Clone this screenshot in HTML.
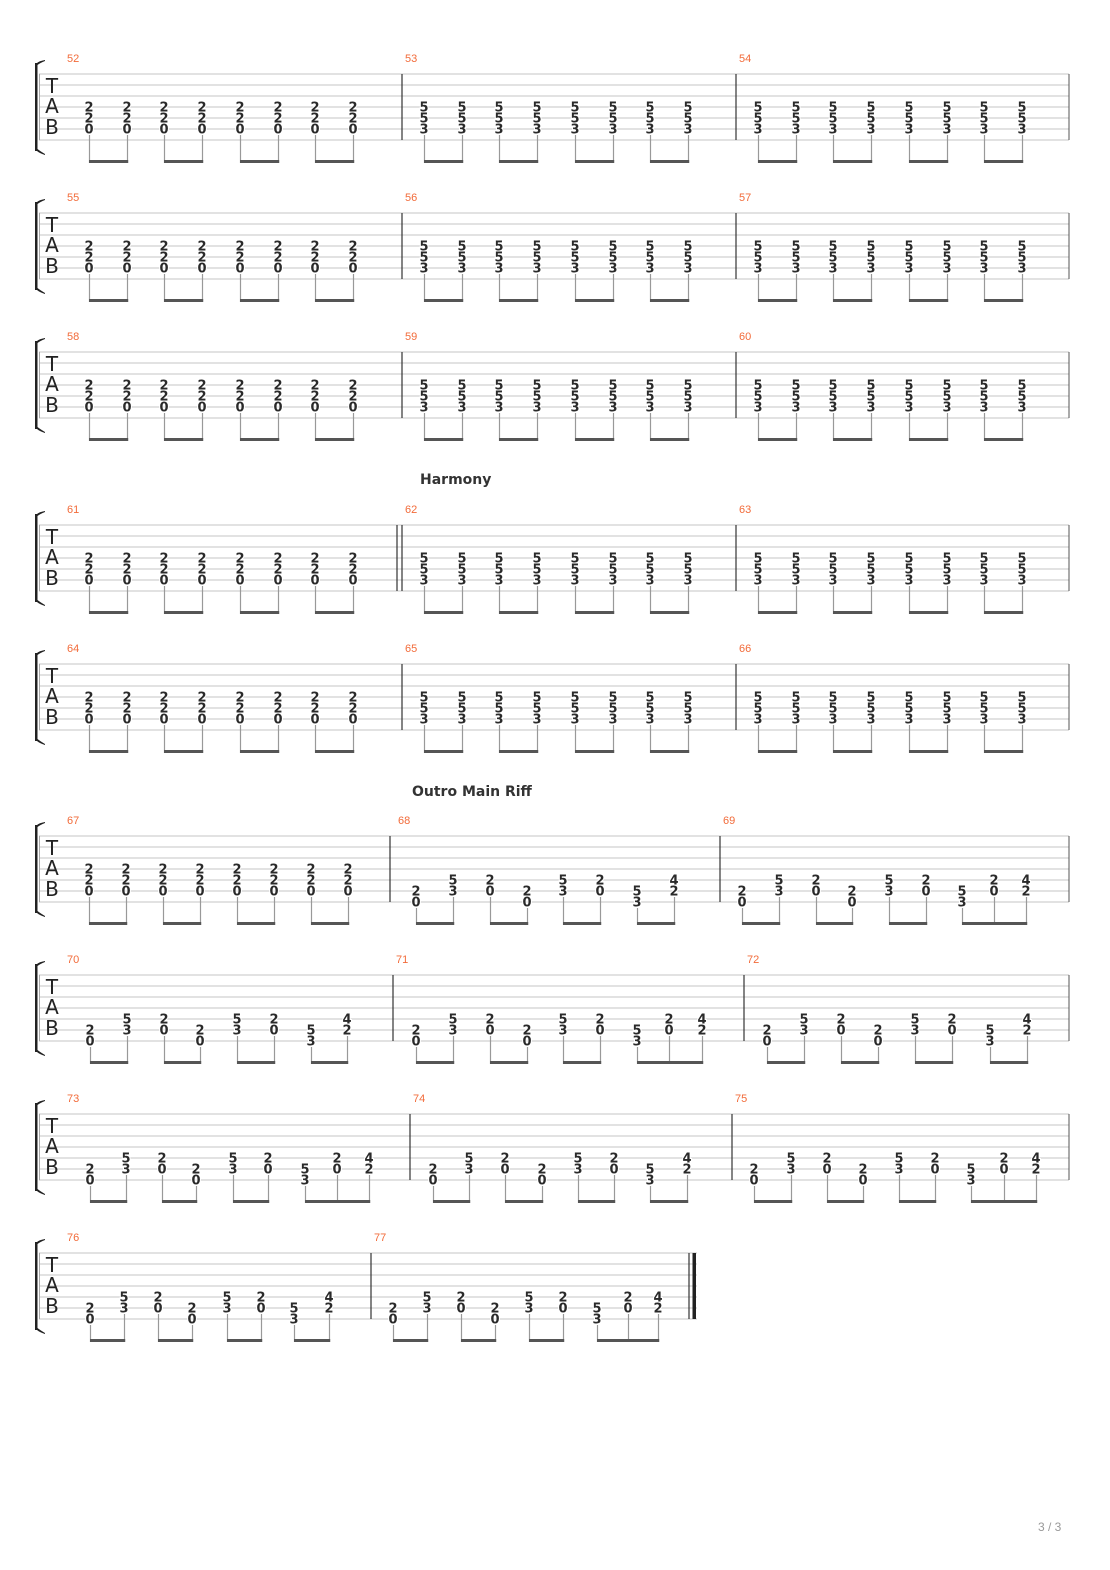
<!DOCTYPE html>
<html><head><meta charset="utf-8">
<style>
html,body{margin:0;padding:0;background:#fff;}
svg{display:block;}
.num{font-family:"Liberation Sans",sans-serif;font-size:11px;fill:#f26b3a;}
.d{font-family:"DejaVu Sans","Liberation Sans",sans-serif;font-size:13px;font-weight:bold;fill:#2a2a2a;text-anchor:middle;stroke:#fff;stroke-width:2px;paint-order:stroke;}
.clef{font-family:"DejaVu Sans","Liberation Sans",sans-serif;font-size:20px;fill:#222;text-anchor:middle;}
.title{font-family:"DejaVu Sans","Liberation Sans",sans-serif;font-size:14px;font-weight:bold;fill:#333;}
</style></head>
<body>
<svg id="s" xmlns="http://www.w3.org/2000/svg" width="1110" height="1570" viewBox="0 0 1110 1570">
<text class="title" x="420" y="484">Harmony</text>
<text class="title" x="412" y="796">Outro Main Riff</text>
<text x="1038" y="1531" style="font-family:'Liberation Sans',sans-serif;font-size:12px;fill:#999;">3 / 3</text>
</svg>
<script>
(function(){
var svg=document.getElementById('s');var NS='http://www.w3.org/2000/svg';
function el(t,a,txt){var e=document.createElementNS(NS,t);for(var k in a)e.setAttribute(k,a[k]);if(txt!==undefined)e.textContent=txt;svg.appendChild(e);return e;}
function seq(s,n,step){var r=[];for(var i=0;i<n;i++)r.push(Math.round(s+i*step));return r;}
var A=[[3,'2'],[4,'2'],[5,'0']],B=[[3,'5'],[4,'5'],[5,'3']];
var P=[[[5,'2'],[6,'0']],[[4,'5'],[5,'3']],[[4,'2'],[5,'0']],[[5,'2'],[6,'0']],[[4,'5'],[5,'3']],[[4,'2'],[5,'0']],[[5,'5'],[6,'3']],[[4,'4'],[5,'2']]];
var P9=P.slice(0,7).concat([[[4,'2'],[5,'0']],[[4,'4'],[5,'2']]]);
function chordM(s,first,ch){return {x:s,notes:(first?seq(89,8,37.7):seq(s+22,8,37.7)).map(function(x){return [x,ch];}),groups:[[0,1],[2,3],[4,5],[6,7]]};}
function outM(s,xs){var pat=xs.length==9?P9:P;return {x:s,notes:xs.map(function(x,i){return [x,pat[i]];}),groups:xs.length==9?[[0,1],[2,3],[4,5],[6,7,8]]:[[0,1],[2,3],[4,5],[6,7]]};}
var systems=[];
var tops=[74,213,352,525,664];
var nums=[52,55,58,61,64];
tops.forEach(function(t,i){
  systems.push({top:t,end:1069,bars:[402,736],dbl:(i==3?402:null),ms:[[nums[i],chordM(40,true,A)],[nums[i]+1,chordM(402,false,B)],[nums[i]+2,chordM(736,false,B)]]});
});
systems.push({top:836,end:1069,bars:[720],dbl:395,ms:[[67,{x:40,notes:[89,126,163,200,237,274,311,348].map(function(x){return [x,A];}),groups:[[0,1],[2,3],[4,5],[6,7]]}],[68,outM(395,[416,453,490,527,563,600,637,674])],[69,outM(720,[742,779,816,852,889,926,962,994,1026])]]});
systems.push({top:975,end:1069,bars:[393,744],ms:[[70,outM(40,[90,127,164,200,237,274,311,347])],[71,outM(393,[416,453,490,527,563,600,637,669,702])],[72,outM(744,[767,804,841,878,915,952,990,1027])]]});
systems.push({top:1114,end:1069,bars:[410,732],ms:[[73,outM(40,[90,126,162,196,233,268,305,337,369])],[74,outM(410,[433,469,505,542,578,614,650,687])],[75,outM(732,[754,791,827,863,899,935,971,1004,1036])]]});
systems.push({top:1253,end:689,fin:true,bars:[371],ms:[[76,outM(40,[90,124,158,192,227,261,294,329])],[77,outM(371,[393,427,461,495,529,563,597,628,658])]]});
systems.forEach(function(S){
  var t=S.top;
  for(var i=0;i<7;i++)el('line',{x1:39,x2:S.fin?697:S.end,y1:t+i*11,y2:t+i*11,stroke:'#c4c4c4','stroke-width':1});
  el('line',{x1:39.5,x2:39.5,y1:t,y2:t+66,stroke:'#aaa','stroke-width':1});
  el('path',{d:'M45,'+(t-14)+' Q39,'+(t-13)+' 37,'+(t-11)+' L35,'+(t-11)+' L35,'+(t+77)+' L37,'+(t+77)+' Q39,'+(t+79)+' 45,'+(t+81)+' L45,'+(t+80)+' Q40,'+(t+77)+' 37.5,'+(t+75)+' L37.5,'+(t-9)+' Q40,'+(t-11)+' 45,'+(t-13)+' Z',fill:'#222'});
  el('text',{class:'clef',x:52,y:t+19},'T');
  el('text',{class:'clef',x:52,y:t+39},'A');
  el('text',{class:'clef',x:52,y:t+60},'B');
  S.bars.forEach(function(b){el('line',{x1:b,x2:b,y1:t,y2:t+66,stroke:'#333','stroke-width':1.2});});
  if(S.dbl){el('line',{x1:S.dbl-5,x2:S.dbl-5,y1:t,y2:t+66,stroke:'#333','stroke-width':1.2});}
  if(S.fin){el('line',{x1:689,x2:689,y1:t,y2:t+66,stroke:'#333','stroke-width':1.2});el('rect',{x:692.5,y:t,width:3.5,height:66,fill:'#222'});}
  else el('line',{x1:S.end,x2:S.end,y1:t,y2:t+66,stroke:'#555','stroke-width':1});
  S.ms.forEach(function(m){
    var M=m[1];
    el('text',{class:'num',x:(M.x==40?67:M.x+3),y:t-12},String(m[0]));
    var bottoms=[];
    M.notes.forEach(function(n){
      var mx=0;
      n[1].forEach(function(d){el('text',{class:'d',x:n[0],y:t+d[0]*11+4.6},d[1]);if(d[0]>mx)mx=d[0];});
      bottoms.push(t+mx*11+6);
    });
    M.groups.forEach(function(g){
      g.forEach(function(i){var x=M.notes[i][0]+0.5;el('line',{x1:x,x2:x,y1:bottoms[i],y2:t+89,stroke:'#999','stroke-width':1.2});});
      var x1=M.notes[g[0]][0],x2=M.notes[g[g.length-1]][0];
      el('rect',{x:x1,y:t+86,width:x2-x1+1.2,height:3,fill:'#555'});
    });
  });
});
})();
</script>
</body></html>
